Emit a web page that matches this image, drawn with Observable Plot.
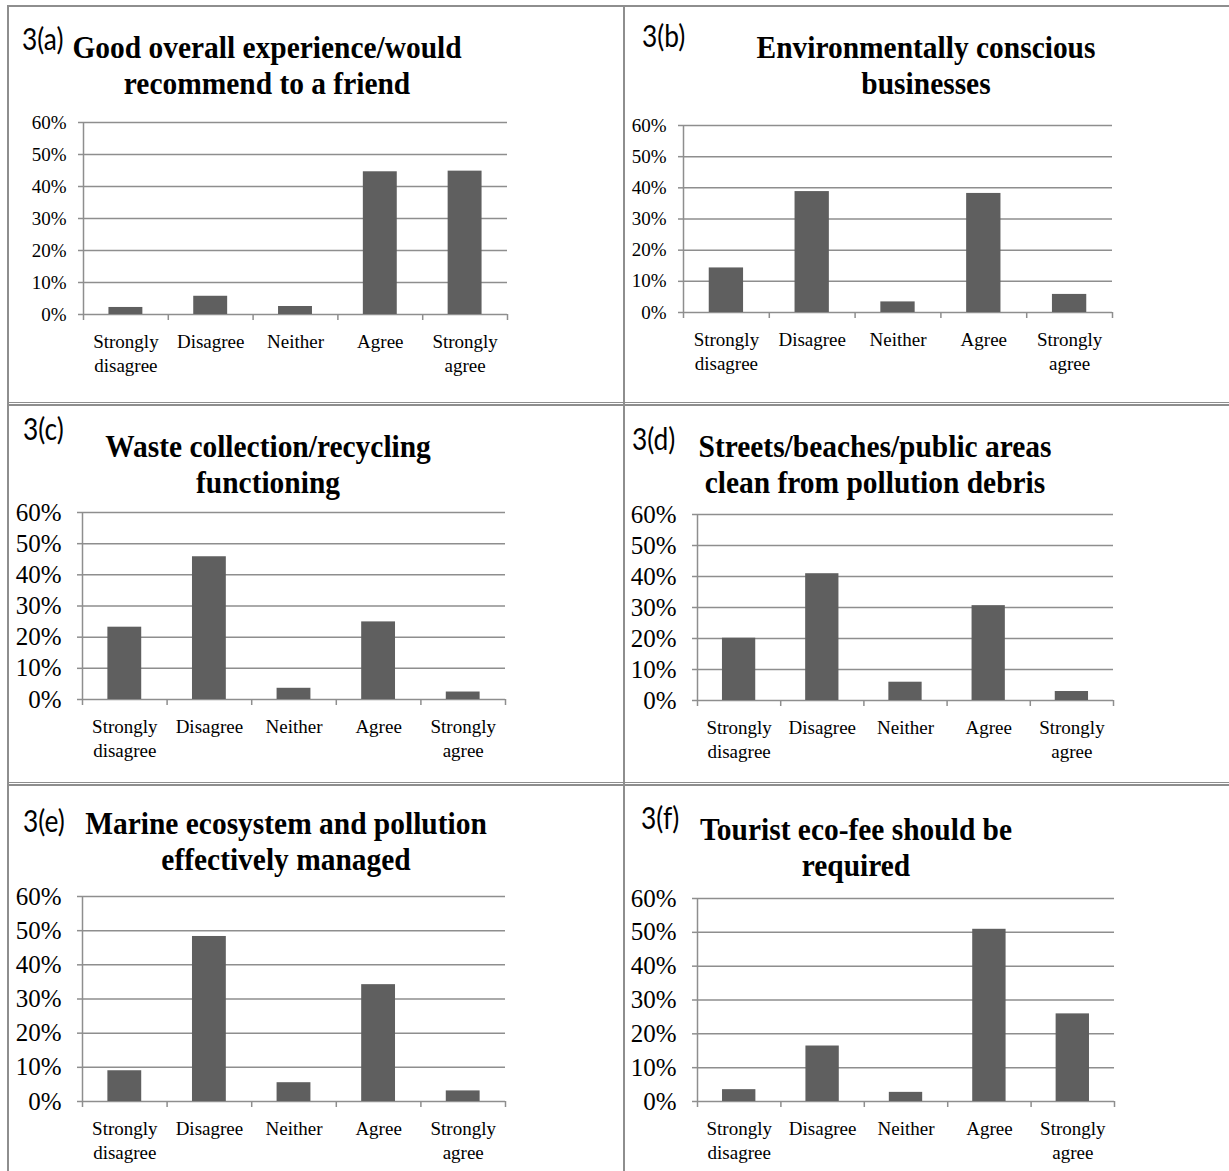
<!DOCTYPE html>
<html><head><meta charset="utf-8">
<script src="https://cdn.jsdelivr.net/npm/d3@7"></script>
<script src="https://cdn.jsdelivr.net/npm/@observablehq/plot@0.6"></script>
<style>
body{margin:0;background:#fff;}
#root{position:relative;width:1229px;height:1171px;overflow:hidden;background:#fff;}
.line{position:absolute;background:#8e8e8e;}
.pid{position:absolute;font-family:"Lato","Liberation Sans",sans-serif;font-size:31px;line-height:1;white-space:nowrap;color:#000;transform:scaleX(0.85);transform-origin:0 0;}
.ttl{position:absolute;font-family:"Liberation Serif",serif;font-weight:bold;font-size:32px;line-height:36px;text-align:center;white-space:pre;transform:translateX(-50%) scaleX(0.92);color:#000;}
.plot{position:absolute;}
</style></head><body><div id="root"></div>
<script>
// ---- data ----
const categories = ["Strongly\ndisagree", "Disagree", "Neither", "Agree", "Strongly\nagree"];
const panelLabels = ["3(a)", "3(b)", "3(c)", "3(d)", "3(e)", "3(f)"];
const titles = [
  "Good overall experience/would\nrecommend to a friend",
  "Environmentally conscious\nbusinesses",
  "Waste collection/recycling\nfunctioning",
  "Streets/beaches/public areas\nclean from pollution debris",
  "Marine ecosystem and pollution\neffectively managed",
  "Tourist eco-fee should be\nrequired"
];
const valuesA = [2.2, 5.7, 2.5, 44.6, 44.8];
const valuesB = [14.3, 38.8, 3.4, 38.2, 5.8];
const valuesC = [23.2, 45.8, 3.6, 24.9, 2.4];
const valuesD = [20.1, 40.9, 5.9, 30.6, 2.9];
const valuesE = [9.0, 48.3, 5.5, 34.2, 3.1];
const valuesF = [3.5, 16.4, 2.7, 50.9, 25.9];
const yTicks = [0, 10, 20, 30, 40, 50, 60];

// ---- layout (positions / styles) ----
const gridColor = "#8e8e8e";
const barColor = "#5f5f5f";
const layout = [
  {left: 10,  xL: 83,  xR: 507,  y0: 314,  y60: 122, tf: 19, tp: 12, tx: 267, ty: 29,    px: 22,  py: 23},
  {left: 625, xL: 683, xR: 1112, y0: 312,  y60: 125, tf: 19, tp: 12, tx: 926, ty: 29,    px: 642, py: 20},
  {left: 10,  xL: 82,  xR: 505,  y0: 699,  y60: 512, tf: 25, tp: 16, tx: 268, ty: 427.5, px: 23,  py: 413},
  {left: 625, xL: 697, xR: 1113, y0: 700,  y60: 514, tf: 25, tp: 16, tx: 875, ty: 427.5, px: 632, py: 423},
  {left: 10,  xL: 82,  xR: 505,  y0: 1101, y60: 896, tf: 25, tp: 16, tx: 286, ty: 804.5, px: 23,  py: 805},
  {left: 625, xL: 697, xR: 1114, y0: 1101, y60: 898, tf: 25, tp: 16, tx: 856, ty: 810.5, px: 641, py: 802}
];
const allValues = [valuesA, valuesB, valuesC, valuesD, valuesE, valuesF];

const root = document.getElementById("root");
function addLine(l, t, w, h) {
  const d = document.createElement("div");
  d.className = "line";
  Object.assign(d.style, {left: l + "px", top: t + "px", width: w + "px", height: h + "px"});
  root.appendChild(d);
}
addLine(7, 4.5, 2, 1171);
addLine(7, 4.5, 1222, 2);
addLine(622.5, 4.5, 2, 1171);
addLine(7, 401.5, 1222, 1.5);
addLine(7, 404.2, 1222, 1.5);
addLine(7, 781.5, 1222, 1.5);
addLine(7, 784.2, 1222, 1.5);

function makePanel(vals, g) {
  const data = vals.map((v, i) => ({i, v}));
  const top = g.y60 - 20;
  const W = g.xR + 12 - g.left;
  const H = (g.y0 - g.y60) + 20 + 75;
  const chart = Plot.plot({
    width: W, height: H,
    marginLeft: g.xL - g.left, marginRight: 12, marginTop: 20, marginBottom: 75,
    style: {fontFamily: "'Liberation Serif', serif", fontSize: "19px", color: "#000", background: "transparent", overflow: "visible"},
    x: {type: "linear", domain: [0, categories.length]},
    y: {domain: [0, 60]},
    marks: [
      Plot.ruleY(yTicks, {stroke: gridColor, strokeWidth: 1.5}),
      Plot.ruleX([0], {stroke: gridColor, strokeWidth: 1.5}),
      Plot.rectY(data, {x1: d => d.i + 0.3, x2: d => d.i + 0.7, y1: () => 0, y2: "v", fill: barColor}),
      Plot.axisY({ticks: yTicks, tickFormat: d => d + "%", tickSize: 5, tickPadding: g.tp, fontSize: g.tf, stroke: gridColor, strokeWidth: 1.5, fill: "#000", label: null}),
      Plot.axisX({ticks: d3.range(categories.length + 1), tickSize: 6, tickFormat: () => "", stroke: gridColor, strokeWidth: 1.5, label: null}),
      Plot.axisX({ticks: categories.map((c, i) => i + 0.5), tickSize: 0, tickPadding: 16, tickFormat: v => categories[Math.floor(v)], lineHeight: 1.29, fontSize: 19, fill: "#000", label: null})
    ]
  });
  chart.classList.add("plot");
  chart.style.left = g.left + "px";
  chart.style.top = top + "px";
  chart.style.position = "absolute";
  root.appendChild(chart);
}

allValues.forEach((vals, k) => {
  const g = layout[k];
  makePanel(vals, g);
  const p = document.createElement("div");
  p.className = "pid";
  p.textContent = panelLabels[k];
  p.style.left = g.px + "px";
  p.style.top = g.py + "px";
  root.appendChild(p);
  const t = document.createElement("div");
  t.className = "ttl";
  t.textContent = titles[k];
  t.style.left = g.tx + "px";
  t.style.top = g.ty + "px";
  root.appendChild(t);
});
</script>
</body></html>
